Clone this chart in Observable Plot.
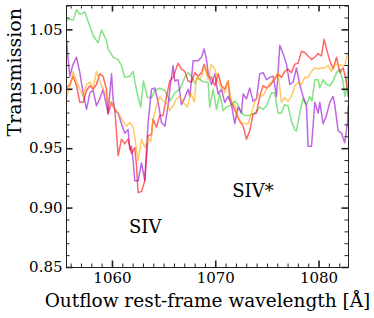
<!DOCTYPE html>
<html>
<head>
<meta charset="utf-8">
<script src="https://cdn.jsdelivr.net/npm/d3@7"></script>
<script src="https://cdn.jsdelivr.net/npm/@observablehq/plot@0.6"></script>
<style>
  html, body { margin: 0; padding: 0; background: #fff; }
  #chart svg { display: block; }
</style>
</head>
<body>
<div id="chart"></div>
<script>
// [wavelength (Å), transmission]
const greenSeries = [[1055.55,1.058],[1055.87,1.059],[1056.19,1.058],[1056.52,1.067],[1056.84,1.063],[1057.32,1.065],[1057.81,1.053],[1058.13,1.045],[1058.61,1.039],[1058.94,1.050],[1059.42,1.041],[1059.58,1.034],[1060.06,1.027],[1060.55,1.025],[1060.87,1.020],[1061.19,1.010],[1061.68,1.011],[1062.00,1.015],[1062.33,0.999],[1062.74,0.985],[1063.00,1.007],[1063.39,0.993],[1063.78,0.993],[1064.10,0.999],[1064.58,1.001],[1065.07,0.999],[1065.55,0.990],[1066.03,0.997],[1066.52,1.000],[1067.00,1.010],[1067.32,1.014],[1067.65,1.011],[1067.97,1.005],[1068.29,1.010],[1068.62,1.007],[1068.94,1.006],[1069.26,1.006],[1069.42,0.985],[1069.74,1.000],[1070.07,0.983],[1070.39,0.996],[1070.71,0.982],[1071.04,0.985],[1071.36,0.986],[1071.84,0.990],[1072.16,0.987],[1072.49,0.980],[1072.81,0.978],[1073.29,0.978],[1073.78,0.980],[1074.26,0.985],[1074.58,0.983],[1074.91,0.986],[1075.39,0.997],[1075.71,0.997],[1076.03,0.980],[1076.36,0.980],[1076.68,0.987],[1077.00,0.986],[1077.33,0.973],[1077.65,0.966],[1077.81,0.965],[1078.13,0.980],[1078.45,0.992],[1078.78,0.987],[1079.10,0.994],[1079.32,0.990],[1079.59,1.008],[1079.91,1.008],[1080.07,1.001],[1080.39,1.008],[1080.72,1.004],[1081.04,1.003],[1081.36,1.007],[1081.69,1.014],[1082.01,1.017],[1082.33,1.006],[1082.49,0.994],[1082.66,1.000],[1082.81,1.020]];

const purpleSeries = [[1055.55,1.042],[1055.65,1.031],[1055.87,1.011],[1056.19,1.021],[1056.52,1.027],[1056.84,1.014],[1057.16,0.997],[1057.49,0.983],[1057.81,0.997],[1058.13,0.999],[1058.45,0.986],[1058.77,0.992],[1059.09,1.000],[1059.42,0.986],[1059.58,0.980],[1059.91,1.013],[1060.06,0.992],[1060.23,0.982],[1060.55,0.980],[1060.87,0.971],[1061.19,0.963],[1061.51,0.966],[1061.68,0.949],[1061.84,0.952],[1062.00,0.940],[1062.16,0.923],[1062.48,0.923],[1062.81,0.938],[1063.13,0.923],[1063.45,0.972],[1063.78,1.000],[1064.10,1.001],[1064.42,0.989],[1064.75,0.972],[1065.07,0.969],[1065.38,0.986],[1065.55,1.000],[1065.87,1.020],[1066.03,1.007],[1066.35,1.008],[1066.68,0.987],[1067.00,0.993],[1067.32,1.000],[1067.49,0.994],[1067.81,1.024],[1068.29,1.024],[1068.62,1.027],[1068.87,1.034],[1069.10,1.025],[1069.26,1.014],[1069.59,1.004],[1069.91,1.013],[1070.23,0.996],[1070.55,1.000],[1070.87,0.989],[1071.19,0.994],[1071.52,0.987],[1071.84,0.971],[1072.16,0.985],[1072.49,0.980],[1072.65,0.996],[1072.97,0.992],[1073.29,1.001],[1073.61,0.990],[1073.94,0.992],[1074.26,1.013],[1074.58,1.014],[1074.91,1.008],[1075.23,1.010],[1075.55,1.011],[1075.71,1.003],[1075.88,0.994],[1076.20,1.037],[1076.52,1.030],[1076.85,1.021],[1077.17,1.004],[1077.49,1.006],[1077.81,1.018],[1078.13,1.004],[1078.45,0.994],[1078.78,0.986],[1078.94,0.952],[1079.27,0.952],[1079.59,0.989],[1079.91,0.980],[1080.07,0.989],[1080.39,0.971],[1080.72,0.978],[1081.04,0.989],[1081.36,0.994],[1081.52,0.987],[1081.85,0.965],[1082.17,0.963],[1082.49,0.955],[1082.75,0.972],[1082.81,0.986]];

const redSeries = [[1055.55,1.001],[1055.87,1.004],[1056.19,1.011],[1056.52,1.003],[1056.84,0.989],[1057.16,0.989],[1057.49,0.999],[1057.81,1.003],[1058.13,1.000],[1058.45,1.004],[1058.77,1.013],[1059.09,1.011],[1059.42,1.000],[1059.58,0.979],[1059.91,0.989],[1060.23,0.983],[1060.55,0.944],[1060.87,0.958],[1061.19,0.954],[1061.51,0.958],[1061.84,0.946],[1062.16,0.951],[1062.33,0.935],[1062.48,0.913],[1062.81,0.914],[1063.13,0.923],[1063.45,0.961],[1063.78,0.962],[1063.93,0.975],[1064.26,0.968],[1064.58,0.978],[1064.90,0.978],[1065.23,0.994],[1065.55,1.007],[1065.87,1.010],[1066.35,1.022],[1066.68,1.017],[1067.00,1.015],[1067.32,1.007],[1067.65,1.006],[1067.97,1.014],[1068.29,1.011],[1068.62,1.014],[1068.87,1.021],[1069.10,1.015],[1069.26,1.011],[1069.59,1.010],[1069.91,1.003],[1070.23,1.013],[1070.55,1.003],[1070.87,1.000],[1071.19,1.007],[1071.36,0.993],[1071.68,0.986],[1072.01,0.979],[1072.33,0.973],[1072.65,0.969],[1072.97,0.958],[1073.29,0.965],[1073.61,0.979],[1073.94,0.980],[1074.26,0.994],[1074.58,1.003],[1074.91,1.001],[1075.23,1.003],[1075.55,1.007],[1075.88,1.011],[1076.03,1.013],[1076.36,1.010],[1076.68,1.015],[1077.00,1.017],[1077.33,1.014],[1077.65,1.021],[1077.97,1.022],[1078.30,1.032],[1078.62,1.031],[1078.94,1.028],[1079.27,1.025],[1079.59,1.027],[1079.91,1.030],[1080.23,1.028],[1080.49,1.042],[1080.72,1.034],[1081.04,1.024],[1081.36,1.017],[1081.69,1.027],[1082.01,1.014],[1082.33,1.018],[1082.56,1.010],[1082.75,1.000],[1082.81,0.994]];

const orangeSeries = [[1055.55,0.994],[1055.87,1.001],[1056.19,1.015],[1056.52,1.007],[1056.84,1.000],[1057.16,0.994],[1057.49,1.004],[1057.81,1.006],[1058.13,1.001],[1058.45,1.015],[1058.77,1.007],[1059.09,1.000],[1059.42,0.994],[1059.74,0.990],[1060.06,0.986],[1060.39,0.982],[1060.71,0.978],[1061.03,0.973],[1061.36,0.969],[1061.68,0.972],[1062.00,0.968],[1062.16,0.960],[1062.33,0.949],[1062.48,0.940],[1062.81,0.958],[1063.13,0.951],[1063.45,0.959],[1063.71,0.956],[1063.93,0.975],[1064.26,0.986],[1064.58,0.994],[1064.90,0.990],[1065.23,0.989],[1065.55,0.982],[1065.87,0.986],[1066.20,0.992],[1066.52,0.994],[1066.84,0.989],[1067.26,0.985],[1067.58,0.997],[1067.91,0.989],[1068.13,1.010],[1068.45,1.008],[1068.77,1.014],[1068.94,1.020],[1069.26,1.008],[1069.59,1.021],[1069.91,1.017],[1070.23,1.007],[1070.55,1.001],[1070.87,0.997],[1071.19,1.007],[1071.52,0.989],[1071.84,0.987],[1072.16,0.976],[1072.49,0.972],[1072.81,0.971],[1073.13,0.971],[1073.46,0.980],[1073.78,0.989],[1074.10,0.996],[1074.43,0.994],[1074.75,0.997],[1075.07,1.003],[1075.39,1.006],[1075.71,1.010],[1076.03,1.014],[1076.36,0.989],[1076.68,0.993],[1077.00,0.990],[1077.33,0.994],[1077.65,1.003],[1077.97,1.006],[1078.30,1.004],[1078.62,1.010],[1078.94,1.010],[1079.27,1.015],[1079.59,1.018],[1079.91,1.017],[1080.23,1.018],[1080.55,1.018],[1080.88,1.020],[1081.20,1.015],[1081.52,1.021],[1081.85,1.021],[1082.17,1.020],[1082.49,1.020],[1082.75,1.030]];

const xMajorTicks = [1060, 1070, 1080];
const xMinorTicks = [1056,1057,1058,1059,1061,1062,1063,1064,1065,1066,1067,1068,1069,1071,1072,1073,1074,1075,1076,1077,1078,1079,1081,1082];
const yMajorTicks = [0.85, 0.90, 0.95, 1.00, 1.05];
const yMinorTicks = [0.86,0.87,0.88,0.89,0.91,0.92,0.93,0.94,0.96,0.97,0.98,0.99,1.01,1.02,1.03,1.04,1.06,1.07];

const annotationLabels = ["SIV", "SIV*"];
const annotationX = [1061.6, 1071.6];
const annotationY = [0.879, 0.909];

const xLabel = "Outflow rest-frame wavelength [Å]";
const yLabel = "Transmission";

const W = 374, H = 318;
const mL = 66, mR = 26, mT = 5, mB = 51;
const innerW = W - mL - mR, innerH = H - mT - mB;
const majorLen = 6.5, minorLen = 3.5;
const axisColor = "#222";

const lineOpts = (color) => ({x: d => d[0], y: d => d[1], stroke: color, strokeOpacity: 0.6, strokeWidth: 1.5, clip: true});

const annotations = annotationLabels.map((t, i) => ({t, x: annotationX[i], y: annotationY[i]}));

const chart = Plot.plot({
  width: W, height: H,
  marginLeft: mL, marginRight: mR, marginTop: mT, marginBottom: mB,
  style: {fontFamily: "'DejaVu Serif', serif", background: "#fff", color: "#000"},
  x: {domain: [1055.55, 1082.85]},
  y: {domain: [0.85, 1.0705]},
  marks: [
    Plot.line(greenSeries, lineOpts("limegreen")),
    Plot.line(purpleSeries, lineOpts("darkviolet")),
    Plot.line(redSeries, lineOpts("red")),
    Plot.line(orangeSeries, lineOpts("orange")),
    Plot.frame({stroke: axisColor, strokeWidth: 1}),
    Plot.tickX(xMajorTicks, {x: d => d, insetTop: innerH - majorLen, stroke: axisColor, strokeWidth: 1.6}),
    Plot.tickX(xMajorTicks, {x: d => d, insetBottom: innerH - majorLen, stroke: axisColor, strokeWidth: 1.6}),
    Plot.tickX(xMinorTicks, {x: d => d, insetTop: innerH - minorLen, stroke: axisColor, strokeWidth: 1}),
    Plot.tickX(xMinorTicks, {x: d => d, insetBottom: innerH - minorLen, stroke: axisColor, strokeWidth: 1}),
    Plot.tickY(yMajorTicks, {y: d => d, insetRight: innerW - majorLen, stroke: axisColor, strokeWidth: 1.6}),
    Plot.tickY(yMajorTicks, {y: d => d, insetLeft: innerW - majorLen, stroke: axisColor, strokeWidth: 1.6}),
    Plot.tickY(yMinorTicks, {y: d => d, insetRight: innerW - minorLen, stroke: axisColor, strokeWidth: 1}),
    Plot.tickY(yMinorTicks, {y: d => d, insetLeft: innerW - minorLen, stroke: axisColor, strokeWidth: 1}),
    Plot.axisX(xMajorTicks, {tickSize: 0, tickPadding: 5, fontSize: 15, label: null, tickFormat: d => String(d)}),
    Plot.axisY(yMajorTicks, {tickSize: 0, tickPadding: 4, fontSize: 15, label: null, tickFormat: d3.format(".2f")}),
    Plot.text(annotations, {x: "x", y: "y", text: "t", textAnchor: "start", lineAnchor: "bottom", fontSize: 18, fill: "#000"}),
    Plot.text([xLabel], {text: d => d, frameAnchor: "bottom", dy: 39, lineAnchor: "bottom", fontSize: 18.5, fill: "#000"}),
    Plot.text([yLabel], {text: d => d, frameAnchor: "left", rotate: -90, dx: -52, lineAnchor: "middle", fontSize: 19, fill: "#000"})
  ]
});
document.getElementById("chart").appendChild(chart);
</script>
</body>
</html>
